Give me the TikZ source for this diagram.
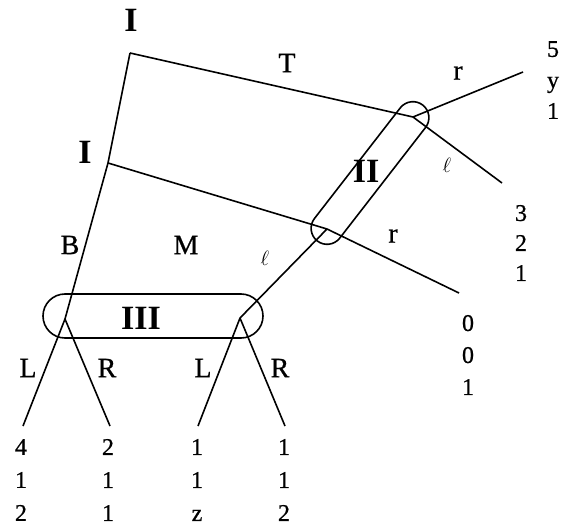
\documentclass[tikz,border=0pt]{standalone}
\usepackage{fontspec}
\setmainfont{Liberation Serif}
\newfontfamily\scanfont{Liberation Serif}[FakeBold=0.7]
\usetikzlibrary{shapes.misc}

\begin{document}
\begin{tikzpicture}[x=1pt, y=-1pt, line width=1.6pt,
  lbl/.style={inner sep=0pt, font=\fontsize{28}{30}\selectfont\scanfont},
  ell/.style={inner sep=0pt, font=\fontsize{21}{24}\selectfont},
  pl/.style={inner sep=0pt, font=\fontsize{34}{36}\selectfont\bfseries},
  pay/.style={inner sep=0pt, align=center, font=\fontsize{24}{#1}\selectfont\scanfont},
  pay/.default=32,
  info/.style={draw, rounded rectangle, inner sep=0pt, line width=1.6pt}]
  \useasboundingbox (0,0) rectangle (564,529);
  % decision points
  \coordinate (rootI) at (130,53);
  \coordinate (lowI) at (108,163);
  \coordinate (upII) at (413,117);
  \coordinate (loII) at (327,229);
  \coordinate (leftIII) at (65,319);
  \coordinate (rightIII) at (240,318);
  % ends of the branches
  \coordinate (endTr) at (523,72);
  \coordinate (endTl) at (502,183);
  \coordinate (endMr) at (459,293);
  \coordinate (endLL) at (23,426);
  \coordinate (endLR) at (110,426);
  \coordinate (endRL) at (198,426);
  \coordinate (endRR) at (285,426);
  % information sets
  \node[info, minimum width=172pt, minimum height=32pt, rotate=52.2] (setII) at (370,173) {};
  \node[info, minimum width=220pt, minimum height=44pt] (setIII) at (153,316) {};
  % branches
  \draw (rootI) -- (upII) (upII) -- (endTr) (upII) -- (endTl);
  \draw (rootI) -- (lowI) -- (leftIII);
  \draw (lowI) -- (loII) (loII) -- (endMr) (loII) -- (rightIII);
  \draw (leftIII) -- (endLL) (leftIII) -- (endLR);
  \draw (rightIII) -- (endRL) (rightIII) -- (endRR);
  % players
  \node[pl] (plI) at (131,20) {I};
  \node[pl] (plIb) at (85,152) {I};
  \node[pl] (plII) at (366,171) {II};
  \node[pl] (plIII) at (141,318) {III};
  % actions
  \node[lbl] (actT) at (287,63) {T};
  \node[lbl] (actB) at (70,245) {B};
  \node[lbl] (actM) at (186,245) {M};
  \node[lbl] (actr) at (458,73) {r};
  \node[ell] (actl) at (447,165) {$\ell$};
  \node[lbl] (actrb) at (393,236) {r};
  \node[ell] (actlb) at (265,258) {$\ell$};
  \node[lbl] (actL) at (28,368) {L};
  \node[lbl] (actR) at (107,368) {R};
  \node[lbl] (actLb) at (203,368) {L};
  \node[lbl] (actRb) at (280,368) {R};
  % payoffs
  \node[pay=31] (payTr) at (553,80) {5\\y\\1};
  \node[pay=30] (payTl) at (521,243) {3\\2\\1};
  \node[pay] (payMr) at (468,355) {0\\0\\1};
  \node[pay=33] (payLL) at (21,480) {4\\1\\2};
  \node[pay=33] (payLR) at (108,480) {2\\1\\1};
  \node[pay=33] (payRL) at (197,480) {1\\1\\z};
  \node[pay=33] (payRR) at (284,480) {1\\1\\2};
\end{tikzpicture}
\end{document}
